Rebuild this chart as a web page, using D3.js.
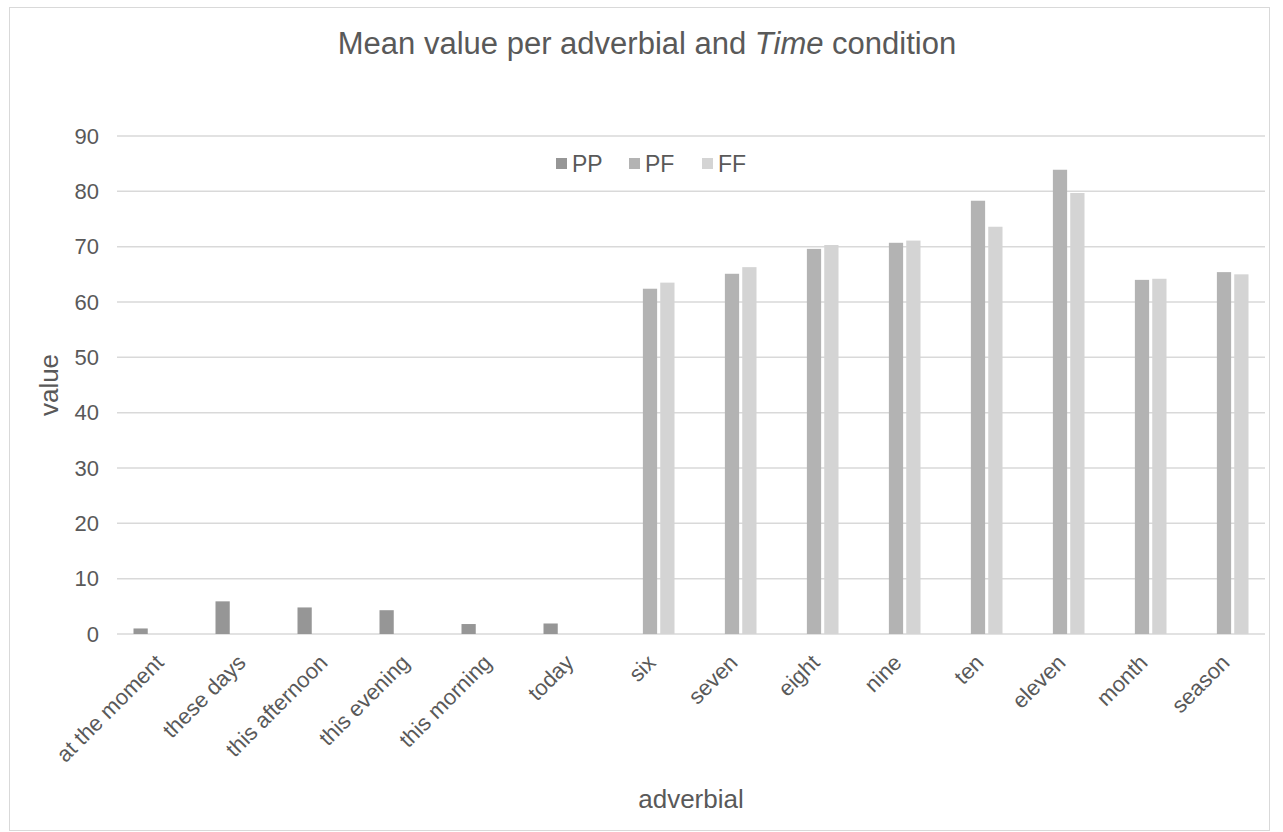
<!DOCTYPE html>
<html lang="en">
<head>
<meta charset="UTF-8"/>
<title>Mean value per adverbial and Time condition</title>
<script src="https://d3js.org/d3.v7.min.js"></script>
<style>
  body { margin: 0; background: #fff; }
  svg { display: block; font-family: "Liberation Sans", Arial, sans-serif; }
</style>
</head>
<body>
<script>
// data
var adverbials = ["at the moment", "these days", "this afternoon", "this evening", "this morning", "today",
                  "six", "seven", "eight", "nine", "ten", "eleven", "month", "season"];
var series = ["PP", "PF", "FF"];
var ppValues = [1.0, 5.9, 4.8, 4.3, 1.8, 1.9, null, null, null, null, null, null, null, null];
var pfValues = [null, null, null, null, null, null, 62.4, 65.1, 69.6, 70.7, 78.3, 83.9, 64.0, 65.4];
var ffValues = [null, null, null, null, null, null, 63.5, 66.3, 70.3, 71.1, 73.6, 79.7, 64.2, 65.0];
var yTicks = [0, 10, 20, 30, 40, 50, 60, 70, 80, 90];

var colors = { PP: "#969696", PF: "#b3b3b3", FF: "#d4d4d4" };
var textColor = "#595959";

var w = 1283, h = 832;
var margin = { left: 117, right: 18, top: 136, bottom: 198 };

var rows = adverbials.map(function(a, i) {
    return { name: a, PP: ppValues[i], PF: pfValues[i], FF: ffValues[i] };
});

var svg = d3.select("body").append("svg")
    .attr("width", w)
    .attr("height", h);

// outer frame
svg.append("rect")
    .attr("x", 9.5).attr("y", 7.5)
    .attr("width", w - 14 - 9).attr("height", h - 9)
    .attr("fill", "#fff")
    .attr("stroke", "#d9d9d9")
    .attr("stroke-width", 1);

var x0 = d3.scaleBand()
    .domain(adverbials)
    .range([margin.left, w - margin.right]);

var x1 = d3.scaleBand()
    .domain(series)
    .range([-24.5, 24.5])
    .paddingInner(0.18);

var y = d3.scaleLinear()
    .domain([0, 90])
    .range([h - margin.bottom, margin.top]);

var plotCenter = (x0.range()[0] + x0.range()[1]) / 2;

// gridlines
svg.append("g")
    .selectAll("line")
    .data(yTicks)
    .enter()
    .append("line")
    .attr("x1", margin.left)
    .attr("x2", w - margin.right)
    .attr("y1", function(d) { return y(d); })
    .attr("y2", function(d) { return y(d); })
    .attr("stroke", "#d9d9d9")
    .attr("stroke-width", 1.5);

// y axis labels
var yAxis = d3.axisLeft(y).tickValues(yTicks).tickSize(0).tickPadding(0);
var gy = svg.append("g")
    .attr("transform", "translate(99,0)")
    .call(yAxis);
gy.select(".domain").remove();
gy.selectAll("text")
    .attr("fill", textColor)
    .attr("font-size", "22px")
    .attr("font-family", "Liberation Sans, Arial, sans-serif");

// bars
var groups = svg.append("g")
    .selectAll("g")
    .data(rows)
    .enter()
    .append("g")
    .attr("transform", function(d) { return "translate(" + (x0(d.name) + x0.bandwidth() / 2) + ",0)"; });

groups.selectAll("rect")
    .data(function(d) {
        return series.filter(function(s) { return d[s] != null; })
                     .map(function(s) { return { key: s, value: d[s] }; });
    })
    .enter()
    .append("rect")
    .attr("x", function(d) { return x1(d.key); })
    .attr("width", x1.bandwidth())
    .attr("y", function(d) { return y(d.value); })
    .attr("height", function(d) { return y(0) - y(d.value); })
    .attr("fill", function(d) { return colors[d.key]; });

// x axis
var xAxis = d3.axisBottom(x0).tickSize(0).tickPadding(0);
var gx = svg.append("g")
    .attr("transform", "translate(0," + y(0) + ")")
    .call(xAxis);
gx.select(".domain").remove();
gx.selectAll("text")
    .attr("fill", textColor)
    .attr("font-size", "22px")
    .attr("font-family", "Liberation Sans, Arial, sans-serif")
    .attr("text-anchor", "end")
    .attr("dy", "0")
    .attr("transform", "translate(7,30) rotate(-45)");

// title
var title = svg.append("text")
    .attr("x", 647)
    .attr("y", 54)
    .attr("text-anchor", "middle")
    .attr("fill", textColor)
    .attr("font-size", "31px");
title.append("tspan").text("Mean value per adverbial and ");
title.append("tspan").attr("font-style", "italic").text("Time");
title.append("tspan").text(" condition");

// axis titles
svg.append("text")
    .attr("x", plotCenter)
    .attr("y", 808)
    .attr("text-anchor", "middle")
    .attr("fill", textColor)
    .attr("font-size", "26px")
    .text("adverbial");

svg.append("text")
    .attr("transform", "translate(58," + ((y(0) + y(90)) / 2) + ") rotate(-90)")
    .attr("text-anchor", "middle")
    .attr("fill", textColor)
    .attr("font-size", "26px")
    .text("value");

// legend
var legendX = [556, 629, 702];
var legend = svg.append("g")
    .selectAll("g")
    .data(series)
    .enter()
    .append("g")
    .attr("transform", function(d, i) { return "translate(" + legendX[i] + ",158)"; });

legend.append("rect")
    .attr("x", 0).attr("y", 0)
    .attr("width", 11).attr("height", 11)
    .attr("fill", function(d) { return colors[d]; });

legend.append("text")
    .attr("x", 16)
    .attr("y", 14)
    .attr("fill", textColor)
    .attr("font-size", "23px")
    .text(function(d) { return d; });
</script>
</body>
</html>
